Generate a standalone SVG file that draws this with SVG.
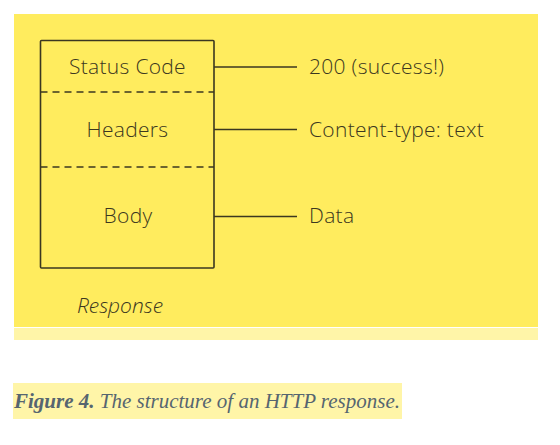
<svg xmlns="http://www.w3.org/2000/svg" width="560" height="445" viewBox="0 0 560 445">
<style>
.lbl{font-family:"Open Sans","Noto Sans",sans-serif;font-size:21px;font-weight:300;letter-spacing:0.3px;fill:#3b3720;}
.ln{stroke:#3b3720;stroke-width:1.6;fill:none;}
.dash{stroke:#3b3720;stroke-width:1.6;stroke-dasharray:7,5;fill:none;}
</style>
<rect x="0" y="0" width="560" height="445" fill="#ffffff"/>
<rect x="14" y="14" width="524" height="313" fill="#ffec5e"/>
<rect x="14" y="328" width="524" height="12" fill="#fff5a8"/>
<g id="response">
<rect x="40.5" y="40.5" width="173.5" height="227.5" class="ln" rx="1"/>
<line x1="40.5" y1="92" x2="214" y2="92" class="dash"/>
<line x1="40.5" y1="167" x2="214" y2="167" class="dash"/>
<text x="127.5" y="74" text-anchor="middle" class="lbl">Status Code</text>
<text x="127.5" y="137" text-anchor="middle" class="lbl">Headers</text>
<text x="128" y="223" text-anchor="middle" class="lbl">Body</text>
<text x="120" y="313" text-anchor="middle" class="lbl" style="font-style:italic;letter-spacing:0">Response</text>
</g>
<g id="connectors">
<line x1="214" y1="67" x2="297" y2="67" class="ln"/>
<line x1="214" y1="129.5" x2="297" y2="129.5" class="ln"/>
<line x1="214" y1="216.5" x2="297" y2="216.5" class="ln"/>
</g>
<g id="val-status"><text x="309" y="74" class="lbl">200 (success!)</text></g>
<g id="val-headers"><text x="309" y="137" class="lbl">Content-type: text</text></g>
<g id="val-body"><text x="309" y="223" class="lbl">Data</text></g>
<rect x="13" y="383" width="389" height="36" fill="#fff5a8"/>
<text x="14" y="408" font-family="'Liberation Serif',serif" font-style="italic" font-size="21" fill="#566570"><tspan font-weight="bold">Figure 4.</tspan> The structure of an HTTP response.</text>
</svg>
